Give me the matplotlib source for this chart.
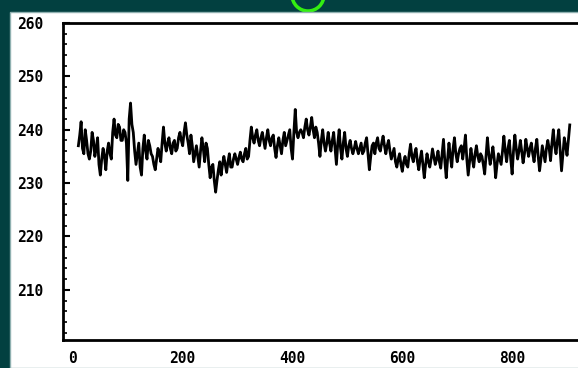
import numpy as np
import matplotlib
matplotlib.use("Agg")
import matplotlib.pyplot as plt
from matplotlib.patches import Rectangle, Ellipse
from matplotlib.ticker import MultipleLocator

# trace read at every 5 units starting at 10 ...
x_start, x_step = 10, 5
values = [
    237, 241.5, 235.5, 238, 234.5, 239.5, 235, 238.5,
    231.5, 236.5, 232.5, 237.5, 234.5, 242, 238.5, 240.5,
    238, 239.5, 230.5, 245, 239.5, 233.5, 237.5, 231.5,
    239, 234.5, 237, 235, 232.5, 236.5, 234, 240.5,
    236, 238.5, 235.5, 238, 236.5, 239.5, 237, 241.3,
    237.5, 239, 234, 237, 233, 238.5, 234, 236.5,
    231, 233.5, 228.3, 232.5, 231.5, 235, 232, 235.5,
    233, 235.5, 233.5, 235.8, 234, 236.5, 235, 240.5,
    237.5, 240, 237, 239.5, 236.5, 240, 237, 239,
    234.8, 238.5, 235.5, 239.5, 238, 240, 234.5, 243.8,
    238.5, 240, 238.5, 242, 239, 242.3, 238.5, 239.5,
    235, 240, 236, 239.5, 236, 239.5, 233.5, 240,
    234.5, 239.5, 235, 238, 235.5, 237.8, 235.5, 237.5,
    236, 238.5, 232.5, 237, 235.5, 238.5, 236, 238.8,
    235.5, 238, 234.5, 236.5, 233, 235.5, 232.2, 235,
    233, 237.3, 234, 236.5, 232.5, 236, 231, 235.5,
    233, 236.4, 233.5, 236, 232.8, 238.2, 231, 237.5,
    233, 238.5, 234, 236.5, 234.5, 239, 231.5, 236.5,
    233, 237, 234, 235, 231.7, 238.5, 233.5, 236.8,
    231, 235.5, 233.5, 238.8, 234, 238, 231.7, 239,
    234.5, 238, 233.8, 238.2, 235, 237.5, 234, 238.2,
    232.3, 237, 234, 238, 234.2, 240, 235.5, 240,
    232.3, 238.5, 235.2, 240.9,
]
# ... and the readings half-way between them (12.5, 17.5, ...)
mid_values = [
    239, 236.5, 240, 235.5, 236, 238, 236.5, 233.5,
    234.5, 235, 236, 235.5, 239.5, 239, 241, 238,
    240, 237.5, 242, 241, 236, 235.5, 233, 236.5,
    236, 238, 235.5, 233.5, 234.5, 235.5, 237.5, 237.5,
    237.5, 236.5, 237.5, 236, 238.5, 238, 239.5, 239,
    235.5, 237, 235.5, 235, 236, 236.5, 237.5, 233.5,
    233, 230.5, 230.5, 234, 233.5, 233.5, 234, 233,
    234.5, 234.5, 234.8, 234.5, 235.5, 234.5, 238, 238.5,
    239, 238, 238.5, 238, 238.5, 238, 238.5, 236.5,
    237, 237, 238, 237, 239, 236.5, 239.5, 239.5,
    239.5, 239.5, 240.5, 240, 240.5, 240, 240.5, 237.5,
    238, 237.5, 237.5, 237.5, 238, 236.5, 237.5, 236.5,
    237.5, 236.5, 237, 236.5, 236.5, 236.5, 236.5, 235.5,
    237.5, 235.5, 235, 237.5, 237.5, 236.5, 237.5, 237,
    237, 236, 235.5, 234, 234.5, 233.5, 234, 233.5,
    235.5, 235, 235.5, 234, 234.5, 233.5, 233.5, 234,
    234.5, 235, 234.5, 234, 235.5, 234, 234.5, 235,
    236.5, 235.5, 235.5, 237, 236.5, 234.5, 234, 234.5,
    235.5, 235, 235.5, 233.5, 235, 235.5, 235, 234.5,
    233.5, 234.5, 236, 236, 236.5, 234.5, 236, 236.5,
    236, 236, 235.5, 236.5, 236.5, 235.5, 236.5, 235,
    234.5, 235.5, 236.5, 236.5, 237.5, 237, 238, 236,
    235.5, 237, 238,
]

y = np.empty(len(values) + len(mid_values))
y[0::2] = values
y[1::2] = mid_values
x = x_start + (x_step / 2) * np.arange(len(y))

xticks = [0, 200, 400, 600, 800]
yticks = [210, 220, 230, 240, 250, 260]

W, H = 578, 368
fig = plt.figure(figsize=(W / 100, H / 100), dpi=100)
fig.patch.set_facecolor("#024040")

# green ring peeking out at the top, then the white panel over it
ring = Ellipse((308 / W, 1 + 5 / H), 32 / W, 32 / H, transform=fig.transFigure,
               fill=False, edgecolor="#33ee11", lw=2.5, zorder=-2)
fig.patches.append(ring)
panel = Rectangle((10 / W, 0), 1, (H - 12) / H, transform=fig.transFigure,
                  facecolor="white", edgecolor="#8fb0b0", lw=1, zorder=-1)
fig.patches.append(panel)

ax = fig.add_axes([63 / W, 28 / H, 1 - 63 / W, (340 - 23) / H])
ax.set_facecolor("white")
ax.plot(x, y, color="black", lw=2.0)

ax.set_xlim(-18, 920)
ax.set_ylim(200.6, 259.4)
ax.set_xticks(xticks)
ax.set_yticks(yticks)
ax.yaxis.set_minor_locator(MultipleLocator(2))

for side in ["left", "bottom", "top"]:
    ax.spines[side].set_linewidth(2)
    ax.spines[side].set_color("black")
ax.spines["right"].set_visible(False)

font = dict(family="DejaVu Sans Mono", weight="bold", size=10.5)
ax.set_xticklabels([str(t) for t in xticks], **font)
ax.set_yticklabels([str(t) for t in yticks], **font)
for lbl in ax.get_yticklabels():
    lbl.set_horizontalalignment("left")

ax.tick_params(axis="y", which="major", direction="in", length=5, width=1.5, pad=33)
ax.tick_params(axis="y", which="minor", direction="in", length=3, width=1.2)
ax.tick_params(axis="x", which="both", length=0, pad=8)

fig.savefig("out.png", dpi=100, facecolor=fig.get_facecolor())
